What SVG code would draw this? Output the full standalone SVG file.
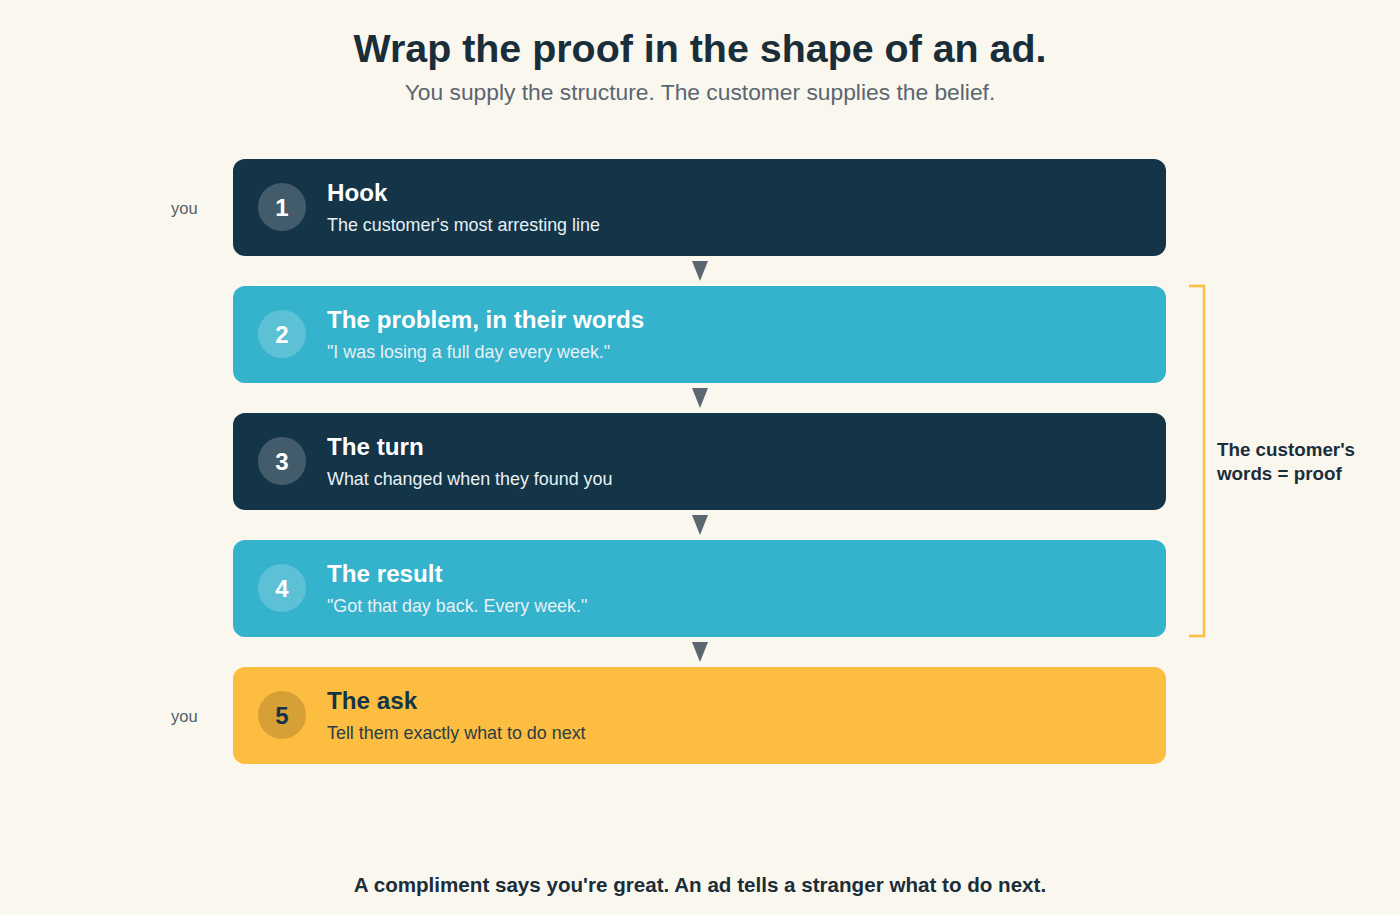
<svg xmlns="http://www.w3.org/2000/svg" width="1400" height="915" viewBox="0 0 1400 915">
<style>
text{font-family:"Liberation Sans",Arial,Helvetica,sans-serif}
.t{font-size:24.2px;font-weight:bold;fill:#ffffff}
.s{font-size:17.9px;fill:#e8f1f5}
.n{font-size:24px;font-weight:bold;fill:#ffffff;text-anchor:middle}
.dark .box{fill:#143447}
.teal .box{fill:#35b2cc}
.gold .box{fill:#fdbd41}
.lite{fill:#ffffff;fill-opacity:0.2}
.gold .t,.gold .n{fill:#143447}
.gold .s{fill:#2a3d48}
.you{font-size:16.5px;fill:#555d63}
.arr{fill:#5a6670}
</style>
<rect width="1400" height="915" fill="#faf7ef"/>
<text x="700" y="62" text-anchor="middle" font-size="39.4" font-weight="bold" fill="#1a2e3a">Wrap the proof in the shape of an ad.</text>
<text x="700" y="100" text-anchor="middle" font-size="22.8" fill="#5a6670">You supply the structure. The customer supplies the belief.</text>

<g id="node1" class="dark">
<rect class="box" x="233" y="159" width="933" height="97" rx="12"/>
<circle class="lite" cx="282" cy="207" r="24"/>
<text class="n" x="282" y="216">1</text>
<text class="t" x="327" y="201">Hook</text>
<text class="s" x="327" y="231">The customer's most arresting line</text>
</g>
<g id="node2" class="teal">
<rect class="box" x="233" y="286" width="933" height="97" rx="12"/>
<circle class="lite" cx="282" cy="334" r="24"/>
<text class="n" x="282" y="343">2</text>
<text class="t" x="327" y="328">The problem, in their words</text>
<text class="s" x="327" y="358">"I was losing a full day every week."</text>
</g>
<g id="node3" class="dark">
<rect class="box" x="233" y="413" width="933" height="97" rx="12"/>
<circle class="lite" cx="282" cy="461" r="24"/>
<text class="n" x="282" y="470">3</text>
<text class="t" x="327" y="455">The turn</text>
<text class="s" x="327" y="485">What changed when they found you</text>
</g>
<g id="node4" class="teal">
<rect class="box" x="233" y="540" width="933" height="97" rx="12"/>
<circle class="lite" cx="282" cy="588" r="24"/>
<text class="n" x="282" y="597">4</text>
<text class="t" x="327" y="582">The result</text>
<text class="s" x="327" y="612">"Got that day back. Every week."</text>
</g>
<g id="node5" class="gold">
<rect class="box" x="233" y="667" width="933" height="97" rx="12"/>
<circle cx="282" cy="715" r="24" fill="#000000" fill-opacity="0.15"/>
<text class="n" x="282" y="724">5</text>
<text class="t" x="327" y="709">The ask</text>
<text class="s" x="327" y="739">Tell them exactly what to do next</text>
</g>

<g id="connectors">
<polygon class="arr" points="692,261 708,261 700,281"/>
<polygon class="arr" points="692,388 708,388 700,408"/>
<polygon class="arr" points="692,515 708,515 700,535"/>
<polygon class="arr" points="692,642 708,642 700,662"/>
</g>

<g id="labels">
<text class="you" x="171" y="214">you</text>
<text class="you" x="171" y="722">you</text>
</g>

<g id="bracket">
<polyline points="1189,286 1204,286 1204,636 1189,636" fill="none" stroke="#fdbd41" stroke-width="2.5"/>
<text x="1217" y="456" font-size="18.8" font-weight="bold" fill="#1a2e3a">The customer's</text>
<text x="1217" y="480" font-size="18.8" font-weight="bold" fill="#1a2e3a">words = proof</text>
</g>

<text x="700" y="892" text-anchor="middle" font-size="20.6" font-weight="bold" fill="#1a2e3a">A compliment says you're great. An ad tells a stranger what to do next.</text>
</svg>
